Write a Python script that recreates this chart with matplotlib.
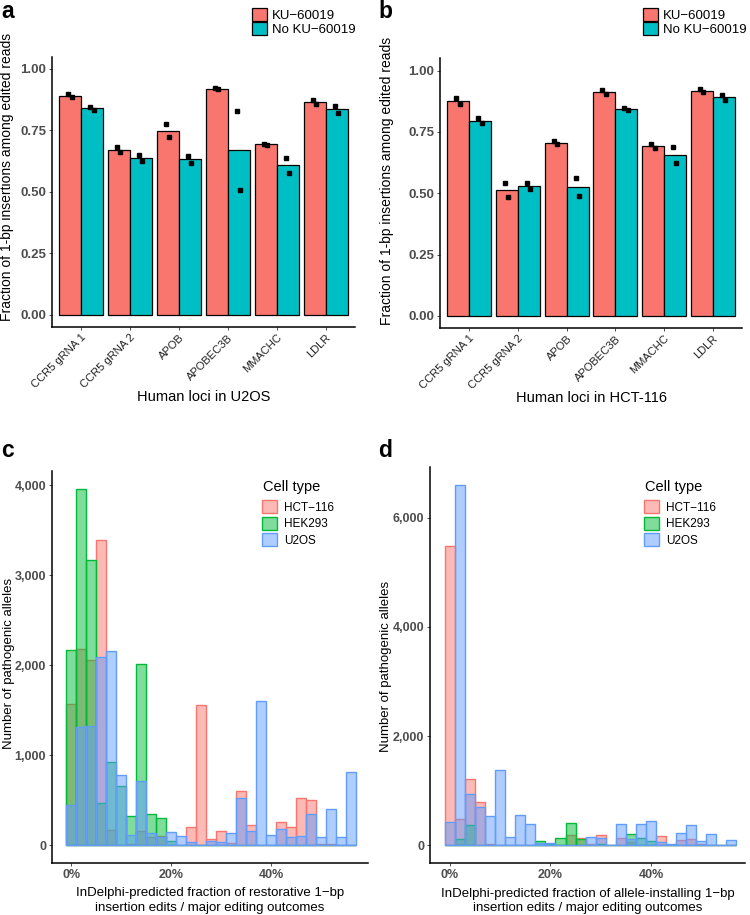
import matplotlib
matplotlib.use('Agg')
import matplotlib.pyplot as plt
from matplotlib.patches import Patch
from matplotlib.colors import to_rgba
import numpy as np

plt.rcParams['font.family'] = ['Liberation Sans', 'DejaVu Sans']

# ---- data: panels a / b (two replicates per locus and condition) ----
loci = ['CCR5 gRNA 1', 'CCR5 gRNA 2', 'APOB', 'APOBEC3B', 'MMACHC', 'LDLR']
conditions = ['KU\u221260019', 'No KU\u221260019']

u2os_ku = [[0.897, 0.886], [0.682, 0.663], [0.775, 0.722],
           [0.924, 0.917], [0.696, 0.691], [0.875, 0.858]]
u2os_noku = [[0.845, 0.835], [0.650, 0.627], [0.648, 0.618],
             [0.831, 0.509], [0.640, 0.579], [0.851, 0.820]]
hct_ku = [[0.888, 0.864], [0.541, 0.485], [0.711, 0.702],
          [0.919, 0.906], [0.702, 0.683], [0.925, 0.911]]
hct_noku = [[0.806, 0.786], [0.542, 0.519], [0.564, 0.488],
            [0.847, 0.840], [0.688, 0.622], [0.902, 0.879]]

# ---- data: panels c / d (histogram counts, 2% bins centred at 0..56%) ----
bin_centers = list(range(0, 58, 2))
cell_types = ['HCT\u2212116', 'HEK293', 'U2OS']

c_hct = [1570, 2180, 2060, 3390, 175, 10, 15, 160, 90, 110, 5, 0, 210, 1560, 70,
         165, 25, 600, 225, 0, 0, 260, 210, 530, 505, 15, 15, 0, 0]
c_hek = [2165, 3960, 3165, 470, 925, 655, 330, 2010, 350, 300, 50, 0, 0, 0, 0,
         0, 0, 0, 0, 0, 0, 0, 0, 0, 0, 0, 0, 0, 0]
c_u2os = [450, 1310, 1330, 2090, 2160, 785, 120, 720, 135, 90, 145, 110, 35, 5, 55,
          35, 135, 525, 165, 1605, 120, 180, 95, 110, 350, 95, 405, 95, 810]

d_hct = [5475, 475, 1210, 790, 20, 5, 0, 10, 0, 0, 0, 0, 195, 130, 15,
         180, 0, 140, 60, 0, 0, 175, 0, 92, 110, 20, 0, 0, 0]
d_hek = [0, 120, 375, 0, 0, 5, 0, 10, 0, 75, 20, 140, 410, 110, 0,
         15, 0, 10, 200, 125, 70, 0, 0, 0, 0, 0, 0, 0, 0]
d_u2os = [435, 6600, 930, 695, 530, 1385, 155, 560, 397, 45, 45, 5, 0, 0, 150,
          135, 10, 385, 110, 395, 445, 55, 15, 226, 362, 79, 200, 5, 104]

RED, TEAL = '#F8766D', '#00BFC4'
cell_colors = ['#F8766D', '#00BA38', '#619CFF']
TICK_GRAY = '#4D4D4D'

W, H = 750, 915
fig = plt.figure(figsize=(W / 100, H / 100), dpi=100)


def px_axes(left, top, right, bottom):
    return fig.add_axes([left / W, 1 - bottom / H, (right - left) / W, (bottom - top) / H])


def style_axes(ax, tick_size):
    for s in ['top', 'right']:
        ax.spines[s].set_visible(False)
    for s in ['left', 'bottom']:
        ax.spines[s].set_linewidth(1.1)
    ax.tick_params(length=2.5, width=0.6, color='#333333', pad=1.5)
    for lab in ax.get_yticklabels():
        lab.set_fontsize(tick_size)
        lab.set_fontweight('bold')
        lab.set_color(TICK_GRAY)


def place_labels(ax, xy, yx, yy):
    ax.xaxis.label.set_va('center')
    ax.xaxis.set_label_coords(0.5, xy)
    ax.yaxis.label.set_va('center')
    ax.yaxis.set_label_coords(yx, yy)


def bar_panel(ax, ku, noku, xlabel):
    x = np.arange(1, len(loci) + 1)
    w = 0.45
    ax.bar(x - w / 2, [np.mean(r) for r in ku], w, color=RED, edgecolor='black', lw=0.9)
    ax.bar(x + w / 2, [np.mean(r) for r in noku], w, color=TEAL, edgecolor='black', lw=0.9)
    jitter = np.array([-0.04, 0.03])
    for i in range(len(loci)):
        ax.plot(x[i] - w / 2 + jitter, ku[i], 's', color='black', ms=2.8)
        ax.plot(x[i] + w / 2 + jitter, noku[i], 's', color='black', ms=2.8)
    ax.set_xlim(0.4, 6.6)
    ax.set_ylim(-0.049, 1.05)
    ax.set_yticks([0, 0.25, 0.5, 0.75, 1.0])
    ax.set_yticklabels(['%.2f' % v for v in [0, 0.25, 0.5, 0.75, 1.0]])
    ax.set_xticks(x)
    ax.set_xticklabels(loci, rotation=45, ha='right', va='top',
                       rotation_mode='anchor', fontsize=8, color='#222222')
    style_axes(ax, 9.5)
    ax.set_xlabel(xlabel, fontsize=10.5)
    ax.set_ylabel('Fraction of 1-bp insertions among edited reads', fontsize=10)


def hist_panel(ax, series, yticks, ylim, xlim, xlabel):
    for vals, col in zip(series, cell_colors):
        ax.bar(bin_centers, vals, 2.0, color=to_rgba(col, 0.5), edgecolor=col, lw=1.0)
    ax.set_xlim(*xlim)
    ax.set_ylim(*ylim)
    ax.set_yticks(yticks)
    ax.set_yticklabels(['{:,}'.format(v) for v in yticks])
    ax.set_xticks([0, 20, 40])
    ax.set_xticklabels(['0%', '20%', '40%'], fontsize=9, fontweight='bold', color=TICK_GRAY)
    style_axes(ax, 9)
    ax.set_xlabel(xlabel, fontsize=9.5, linespacing=1.25)
    ax.set_ylabel('Number of pathogenic alleles', fontsize=9.5)


axa = px_axes(51.7, 56.7, 355, 327)
axb = px_axes(440, 58.3, 742, 328)
axc = px_axes(51.7, 470.7, 368.3, 863.3)
axd = px_axes(430, 466.7, 745, 863.3)

bar_panel(axa, u2os_ku, u2os_noku, 'Human loci in U2OS')
place_labels(axa, -0.259, -0.146, 0.555)
bar_panel(axb, hct_ku, hct_noku, 'Human loci in HCT-116')
place_labels(axb, -0.259, -0.176, 0.545)

hist_panel(axc, [c_hct, c_hek, c_u2os], [0, 1000, 2000, 3000, 4000], (-198, 4160),
           (-3.9, 59.4),
           'InDelphi-predicted fraction of restorative 1\u2212bp\ninsertion edits / major editing outcomes')
place_labels(axc, -0.095, -0.135, 0.51)
hist_panel(axd, [d_hct, d_hek, d_u2os], [0, 2000, 4000, 6000], (-330, 6930),
           (-3.95, 58.7),
           'InDelphi-predicted fraction of allele-installing 1\u2212bp\ninsertion edits / major editing outcomes')
place_labels(axd, -0.095, -0.14, 0.497)

# legends
bar_handles = [Patch(facecolor=c, edgecolor='black', lw=0.9) for c in [RED, TEAL]]
for left in [252, 643]:
    fig.legend(bar_handles, conditions, loc='upper left',
               bbox_to_anchor=(left / W, 1 - 8.5 / H), frameon=False, fontsize=9.5,
               handlelength=1.15, handleheight=1.1, labelspacing=0.0,
               handletextpad=0.35, borderpad=0, borderaxespad=0)

hist_handles = [Patch(facecolor=to_rgba(c, 0.5), edgecolor=c, lw=1.0) for c in cell_colors]
for left in [262, 644]:
    fig.text((left + 1) / W, 1 - 487 / H, 'Cell type', fontsize=10.5, va='center')
    fig.legend(hist_handles, cell_types, loc='upper left',
               bbox_to_anchor=(left / W, 1 - 500 / H), frameon=False, fontsize=8.5,
               handlelength=1.3, handleheight=1.35, labelspacing=0.25,
               handletextpad=0.6, borderpad=0, borderaxespad=0)

# panel letters
for lab, xp, yp in [('a', 1, 18), ('b', 378, 18), ('c', 1, 457), ('d', 378, 457)]:
    fig.text(xp / W, 1 - yp / H, lab, fontsize=16.5, fontweight='bold', va='baseline')

plt.savefig('out.png', dpi=100)
